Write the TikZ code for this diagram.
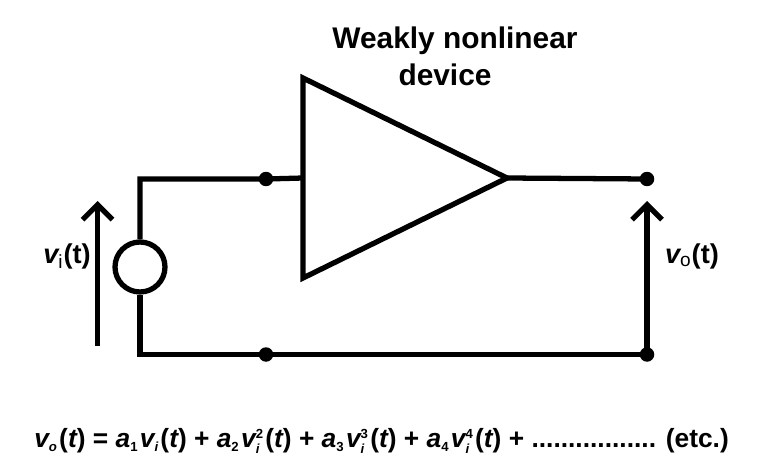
\documentclass[tikz,border=0pt]{standalone}
\usepackage{amsmath}
\usepackage{fontspec}
\setmainfont{Liberation Sans}
\usetikzlibrary{shapes.geometric,arrows.meta,positioning}
\newcommand{\ital}[1]{\text{\itshape #1}}
\newcommand{\low}[1]{_{\scriptscriptstyle\text{#1}}}
\newcommand{\coef}[1]{$\ital{a}\low{#1}\mkern1mu$}
\newcommand{\vipow}[1]{$\ital{v}\low{\itshape i}^{\scriptscriptstyle\text{#1}}\mkern1mu$}
\tikzset{
    wire/.style={line width=3pt, line join=miter},
    junction/.style={draw=none, circle, fill=black, minimum size=0.29cm, inner sep=0pt},
    volt/.style={line width=3pt, -{Straight Barb[length=0.3cm, width=0.6cm, line width=3pt]}},
    label/.style={font=\bfseries\fontsize{15.5}{18}\selectfont, inner sep=0pt}
}
\begin{document}
\begin{tikzpicture}[x=0.02cm, y=-0.02cm]
    \useasboundingbox (0,0) rectangle (774,466);
    % amplifier and source
    \node[draw, wire, isosceles triangle, isosceles triangle stretches, shape border rotate=0, minimum width=4cm, minimum height=4.08cm, inner sep=0pt, outer sep=0pt, anchor=apex] (amp) at (507,178) {};
    \node[draw, wire, circle, minimum size=1cm, inner sep=0pt] (src) at (140,267) {};
    % terminals
    \node[junction] (in) at (266,179) {};
    \node[junction] (out) at (647,179) {};
    \node[junction] (gndl) at (266,354.5) {};
    \node[junction] (gndr) at (647,354.5) {};
    \coordinate (tl) at (140,179);
    \coordinate (bl) at (140,354.5);
    \coordinate (arrowlow) at (97.5,346);
    \coordinate (arrowhigh) at (97.5,201);
    \coordinate (arrowtop) at (647,201);
    % wires
    \draw[wire] (src.north) -- (tl) -- (in.center) -- (amp.lower side);
    \draw[wire] (src.south) -- (bl) -- (gndl.center) -- (gndr.center);
    \draw[wire] (amp.apex) -- (out.center);
    % voltage arrows
    \draw[volt] (arrowlow) -- (arrowhigh);
    \draw[volt] (gndr.center) -- (arrowtop);
    % text
    \node[label, align=center, font=\bfseries\fontsize{17}{21}\selectfont] (title) at (455,56) {Weakly nonlinear\\device\hspace*{0.4cm}};
    \node[label] (vi) at (67,256) {$\ital{v}_{\text{\mdseries i}}$(t)};
    \node[label] (vo) at (692,256) {$\ital{v}_{\text{\mdseries o}}$(t)};
    \node[label, font=\bfseries\fontsize{15}{18}\selectfont] (eqn) at (381.5,441) {$\ital{v}\low{\itshape o}\mkern1mu$(\ital{t}) = \coef{1}$\ital{v}\low{\itshape i}\mkern1mu$(\ital{t}) + \coef{2}\vipow{2}(\ital{t}) + \coef{3}\vipow{3}(\ital{t}) + \coef{4}\vipow{4}(\ital{t}) + ................. (etc.)};
\end{tikzpicture}
\end{document}
